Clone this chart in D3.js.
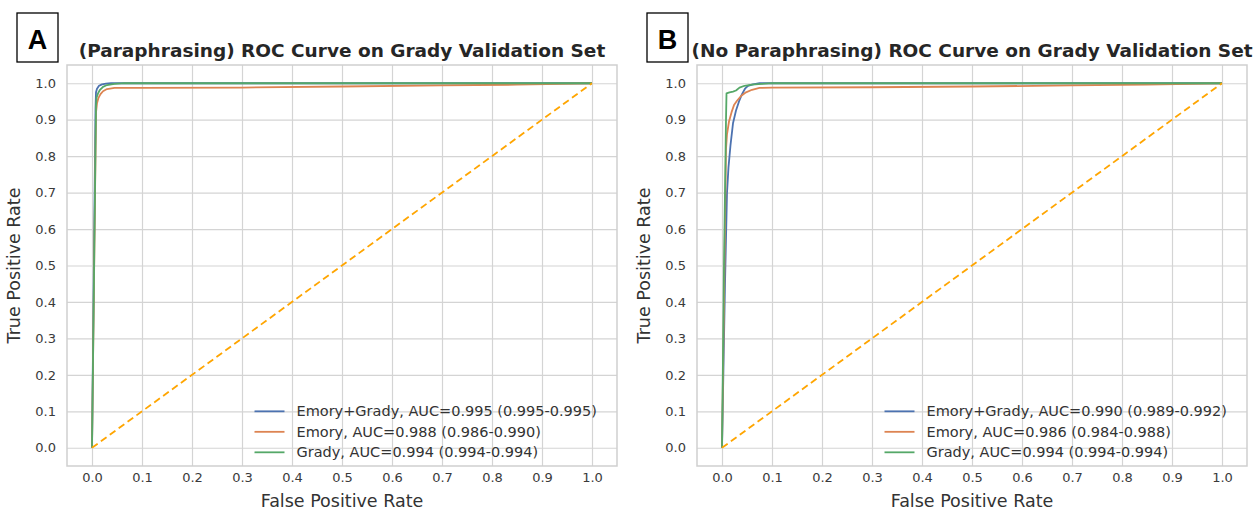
<!DOCTYPE html>
<html>
<head>
<meta charset="utf-8">
<script src="https://cdn.jsdelivr.net/npm/d3@7"></script>
<style>
  body { margin: 0; background: #ffffff; }
  svg { display: block; font-family: "DejaVu Sans", sans-serif; }
</style>
</head>
<body>
<svg id="chart"></svg>
<script>
// =============================================== DATA ===============================================
var tickValues = [0, 0.1, 0.2, 0.3, 0.4, 0.5, 0.6, 0.7, 0.8, 0.9, 1.0];
var tickLabels = ["0.0", "0.1", "0.2", "0.3", "0.4", "0.5", "0.6", "0.7", "0.8", "0.9", "1.0"];
var seriesNames = ["Emory+Grady", "Emory", "Grady"];
var seriesColors = ["#4c72b0", "#dd8452", "#55a868"];

// panel A (paraphrasing)
var aucA = ["AUC=0.995 (0.995-0.995)", "AUC=0.988 (0.986-0.990)", "AUC=0.994 (0.994-0.994)"];
var fprA_emoryGrady = [0, 0.007, 0.008, 0.010, 0.014, 0.020, 0.028, 0.038, 1];
var tprA_emoryGrady = [0, 0.93, 0.975, 0.985, 0.993, 0.997, 0.999, 1, 1];
var fprA_emory = [0, 0.008, 0.010, 0.013, 0.017, 0.022, 0.030, 0.045, 0.1, 0.3, 0.5, 0.7, 0.85, 1];
var tprA_emory = [0, 0.92, 0.945, 0.96, 0.97, 0.978, 0.984, 0.987, 0.987, 0.988, 0.991, 0.994, 0.996, 1];
var fprA_grady = [0, 0.008, 0.009, 0.012, 0.016, 0.022, 0.030, 0.045, 0.065, 1];
var tprA_grady = [0, 0.94, 0.96, 0.972, 0.982, 0.99, 0.995, 0.998, 1, 1];

// panel B (no paraphrasing)
var aucB = ["AUC=0.990 (0.989-0.992)", "AUC=0.986 (0.984-0.988)", "AUC=0.994 (0.994-0.994)"];
var fprB_emoryGrady = [0, 0.006, 0.010, 0.013, 0.017, 0.022, 0.028, 0.034, 0.040, 0.046, 0.052, 0.062, 0.075, 1];
var tprB_emoryGrady = [0, 0.45, 0.70, 0.77, 0.83, 0.89, 0.925, 0.95, 0.97, 0.985, 0.993, 0.997, 1, 1];
var fprB_emory = [0, 0.005, 0.008, 0.010, 0.014, 0.019, 0.024, 0.030, 0.038, 0.048, 0.060, 0.075, 0.1, 0.3, 0.5, 0.7, 0.85, 1];
var tprB_emory = [0, 0.5, 0.82, 0.86, 0.895, 0.92, 0.94, 0.952, 0.965, 0.975, 0.982, 0.987, 0.988, 0.989, 0.991, 0.994, 0.996, 1];
var fprB_grady = [0, 0.004, 0.008, 0.009, 0.015, 0.022, 0.028, 0.035, 0.045, 0.06, 0.08, 0.1, 1];
var tprB_grady = [0, 0.5, 0.90, 0.972, 0.975, 0.977, 0.98, 0.988, 0.993, 0.996, 0.998, 1, 1];

var chanceLine = [0, 1];
// ====================================================================================================

var width = 1255, height = 513;
var svg = d3.select("#chart").attr("width", width).attr("height", height);

function zip(xs, ys) { return xs.map(function(x, i) { return [x, ys[i]]; }); }

var panels = [
  { letter: "A", title: "(Paraphrasing) ROC Curve on Grady Validation Set", left: 67, auc: aucA,
    series: [zip(fprA_emoryGrady, tprA_emoryGrady), zip(fprA_emory, tprA_emory), zip(fprA_grady, tprA_grady)] },
  { letter: "B", title: "(No Paraphrasing) ROC Curve on Grady Validation Set", left: 697, auc: aucB,
    series: [zip(fprB_emoryGrady, tprB_emoryGrady), zip(fprB_emory, tprB_emory), zip(fprB_grady, tprB_grady)] }
];

var plotW = 550, plotH = 401, plotTop = 65;

panels.forEach(function(p) {
  var g = svg.append("g").attr("transform", "translate(" + p.left + "," + plotTop + ")");
  var xs = d3.scaleLinear().domain([-0.05, 1.05]).range([0, plotW]);
  var ys = d3.scaleLinear().domain([-0.05, 1.05]).range([plotH, 0]);

  // ================== GRID ==================
  g.append("g").attr("transform", "translate(0," + plotH + ")")
    .call(d3.axisBottom(xs).tickValues(tickValues).tickSize(-plotH).tickFormat(""))
    .call(function(a) { a.select(".domain").remove(); a.selectAll("line").attr("stroke", "#d4d4d4").attr("stroke-width", 1.2); });
  g.append("g")
    .call(d3.axisLeft(ys).tickValues(tickValues).tickSize(-plotW).tickFormat(""))
    .call(function(a) { a.select(".domain").remove(); a.selectAll("line").attr("stroke", "#d4d4d4").attr("stroke-width", 1.2); });

  g.append("rect").attr("width", plotW).attr("height", plotH)
    .attr("fill", "none").attr("stroke", "#cfcfcf").attr("stroke-width", 1.5);

  // ================== AXES ==================
  g.append("g").attr("transform", "translate(0," + plotH + ")")
    .call(d3.axisBottom(xs).tickValues(tickValues).tickSize(0).tickPadding(7)
      .tickFormat(function(d, i) { return tickLabels[i]; }))
    .call(function(a) {
      a.select(".domain").remove();
      a.selectAll("text").attr("font-size", 13).attr("fill", "#3a3a3a").attr("font-family", "DejaVu Sans");
    });
  g.append("g")
    .call(d3.axisLeft(ys).tickValues(tickValues).tickSize(0).tickPadding(11)
      .tickFormat(function(d, i) { return tickLabels[i]; }))
    .call(function(a) {
      a.select(".domain").remove();
      a.selectAll("text").attr("font-size", 13).attr("fill", "#3a3a3a").attr("font-family", "DejaVu Sans");
    });

  g.append("text").attr("x", plotW / 2).attr("y", plotH + 41)
    .attr("text-anchor", "middle").attr("font-size", 17.5).attr("fill", "#333")
    .text("False Positive Rate");
  g.append("text").attr("transform", "translate(-47," + (plotH / 2) + ")rotate(-90)")
    .attr("text-anchor", "middle").attr("font-size", 17.5).attr("fill", "#333")
    .text("True Positive Rate");

  g.append("text").attr("x", plotW / 2).attr("y", -8)
    .attr("text-anchor", "middle").attr("font-size", 18.5).attr("font-weight", "bold").attr("fill", "#262626")
    .text(p.title);

  // ================== CURVES ==================
  var line = d3.line().x(function(d) { return xs(d[0]); }).y(function(d) { return ys(d[1]); });
  p.series.forEach(function(s, i) {
    g.append("path").datum(s).attr("d", line).attr("fill", "none")
      .attr("stroke", seriesColors[i]).attr("stroke-width", 1.8).attr("stroke-linejoin", "round");
  });
  g.append("path").datum(zip(chanceLine, chanceLine)).attr("d", line).attr("fill", "none")
    .attr("stroke", "#ffa500").attr("stroke-width", 1.8).attr("stroke-dasharray", "7,4");

  // ================== LEGEND ==================
  var lg = g.append("g").attr("transform", "translate(" + (xs(0.325)) + "," + (ys(0.1)) + ")");
  seriesNames.forEach(function(name, i) {
    var yy = i * 20.5;
    lg.append("line").attr("x1", 0).attr("x2", 30).attr("y1", yy).attr("y2", yy)
      .attr("stroke", seriesColors[i]).attr("stroke-width", 1.8);
    lg.append("text").attr("x", 42).attr("y", yy + 5).attr("font-size", 14.5).attr("fill", "#333")
      .text(name + ", " + p.auc[i]);
  });

  // ================== PANEL LETTER ==================
  var bx = p.left - 50;
  svg.append("rect").attr("x", bx).attr("y", 13).attr("width", 41).attr("height", 49)
    .attr("fill", "#fff").attr("stroke", "#000").attr("stroke-width", 1.3);
  svg.append("text").attr("x", bx + 20.5).attr("y", 49).attr("text-anchor", "middle")
    .attr("font-family", "Liberation Sans").attr("font-weight", "bold").attr("font-size", 27)
    .text(p.letter);
});
</script>
</body>
</html>
